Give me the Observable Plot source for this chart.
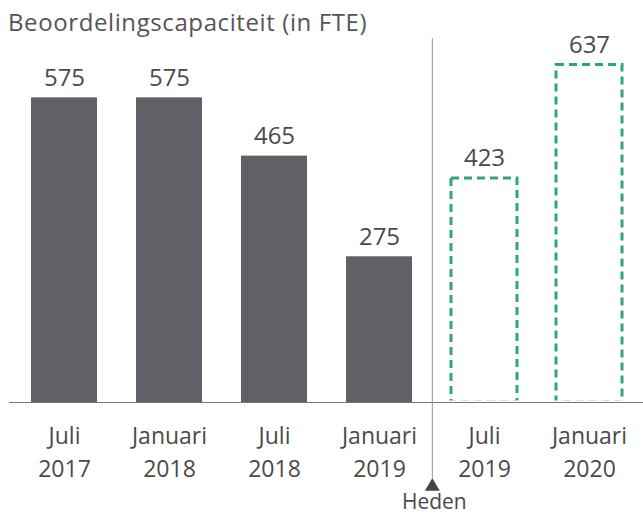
<!DOCTYPE html>
<html><head><meta charset="utf-8">
<script src="https://cdn.jsdelivr.net/npm/d3@7"></script>
<script src="https://cdn.jsdelivr.net/npm/@observablehq/plot@0.6"></script>
<style>
body{margin:0;background:#fff;font-family:"Open Sans",sans-serif;}
#title{height:36px;overflow:visible;font-size:24px;letter-spacing:0.6px;color:#555;padding-left:8px;line-height:43px;white-space:nowrap;}
</style></head><body>
<div id="title">Beoordelingscapaciteit (in FTE)</div>
<div id="chart"></div>
<script>
const periods = ["Juli\n2017","Januari\n2018","Juli\n2018","Januari\n2019","Juli\n2019","Januari\n2020"];
const values = [575, 575, 465, 275, 423, 637];
const kinds = ["realisatie","realisatie","realisatie","realisatie","prognose","prognose"];
const markerAfter = "Januari\n2019";
const markerLabel = "Heden";

const data = periods.map((p, i) => ({period: p, value: values[i], kind: kinds[i]}));
const actual = data.filter(d => d.kind === "realisatie");
const forecast = data.filter(d => d.kind === "prognose");

const W = 643, H = 479, ML = 9, MR = 0;
const step = (W - ML - MR) / periods.length;

const chart = Plot.plot({
  width: W, height: H,
  marginTop: 2, marginBottom: 113, marginLeft: ML, marginRight: MR,
  style: {fontFamily: "'Open Sans', sans-serif", color: "#4a4a4a", background: "white", overflow: "visible"},
  x: {domain: periods, paddingInner: 0.375, paddingOuter: 0.1875, label: null},
  y: {domain: [0, 687], axis: null},
  marks: [
    Plot.barY(forecast, {x: "period", y: "value", fill: "none", stroke: "#2ea774", strokeWidth: 3, strokeDasharray: "8,5"}),
    Plot.ruleY([0], {stroke: "white", strokeWidth: 4}),
    Plot.barY(actual, {x: "period", y: "value", fill: "#616066"}),
    Plot.ruleY([0], {stroke: "#777", strokeWidth: 1}),
    Plot.ruleX([markerAfter], {x: d => d, dx: step / 2, stroke: "#999", strokeWidth: 1, insetBottom: -76}),
    Plot.dot([markerAfter], {x: d => d, dx: step / 2, frameAnchor: "bottom", dy: 84, symbol: "triangle", r: 5.5, fill: "#444", stroke: "none"}),
    Plot.text([markerLabel], {x: () => markerAfter, text: d => d, dx: step / 2 + 2, frameAnchor: "bottom", lineAnchor: "bottom", dy: 106, fontSize: 21, fill: "#4a4a4a"}),
    Plot.text(data, {x: "period", y: "value", text: d => String(d.value), lineAnchor: "bottom", dy: -12, fontSize: 24, fill: "#4a4a4a"}),
    Plot.axisX({tickSize: 0, tickPadding: 18, fontSize: 23, lineHeight: 1.435, lineAnchor: "top", fill: "#4a4a4a"})
  ]
});
document.getElementById("chart").appendChild(chart);
</script>
</body></html>
